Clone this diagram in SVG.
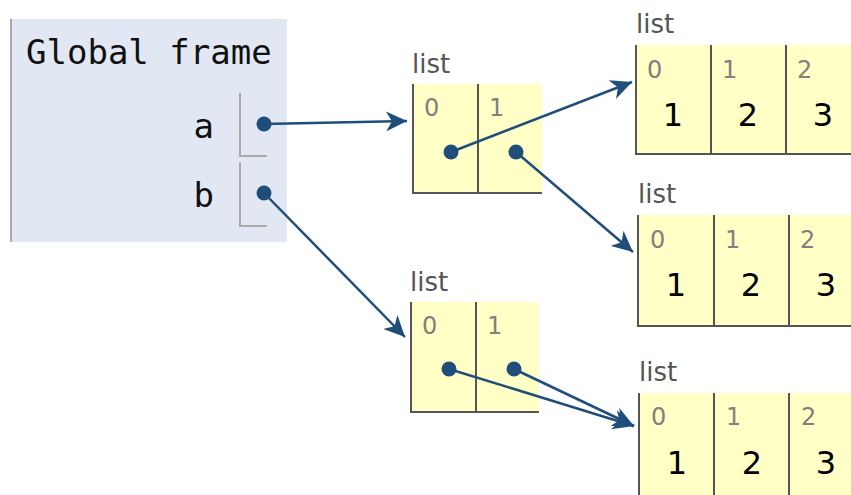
<svg xmlns="http://www.w3.org/2000/svg" width="851" height="495" viewBox="0 0 851 495">
<defs>
<style>
.frame{fill:#e2e8f3}
.framebar{stroke:#a8a8a8;stroke-width:2}
.mono{font-family:"DejaVu Sans Mono","Liberation Mono",monospace;fill:#111}
.slot{fill:none;stroke:#aaaaaa;stroke-width:2}
.cell{fill:#ffffc6}
.bd{stroke:#555555;stroke-width:2;fill:none}
.lbl{font-family:"DejaVu Sans",Verdana,sans-serif;font-size:26px;fill:#555555}
.idx{font-family:"DejaVu Sans",Verdana,sans-serif;font-size:24px;fill:#808080}
.val{font-family:"DejaVu Sans",Verdana,sans-serif;font-size:32px;fill:#000000;text-anchor:middle}
.dot{fill:#1f4e7b}
.conn{stroke:#1f4e7b;stroke-width:2.5;fill:none;marker-end:url(#ah)}
</style>
<marker id="ah" markerUnits="userSpaceOnUse" markerWidth="22" markerHeight="20" viewBox="0 0 22 20" refX="21" refY="10" orient="auto">
<path d="M0,0 L21,10 L0,20 L6,10 z" fill="#1f4e7b"/>
</marker>
</defs>

<g id="global-frame">
<rect class="frame" x="10" y="19" width="277" height="223"/>
<line class="framebar" x1="11" y1="19" x2="11" y2="242"/>
<text class="mono" x="26" y="64" font-size="34">Global frame</text>
<text class="mono" x="214" y="138" font-size="34" text-anchor="end">a</text>
<path class="slot" d="M240,93 V156 H267"/>
<text class="mono" x="214" y="207" font-size="34" text-anchor="end">b</text>
<path class="slot" d="M240,162 V226 H267"/>
</g>

<g id="list-a">
<text class="lbl" x="412" y="73">list</text>
<rect class="cell" x="413" y="84" width="129" height="109"/>
<path class="bd" d="M413,84 V193 H542 M478,84 V193"/>
<text class="idx" x="424" y="116">0</text>
<text class="idx" x="489" y="116">1</text>
</g>

<g id="list-b">
<text class="lbl" x="410" y="291">list</text>
<rect class="cell" x="411" y="302" width="128" height="110"/>
<path class="bd" d="M411,302 V412 H539 M476,302 V412"/>
<text class="idx" x="422" y="334">0</text>
<text class="idx" x="487" y="334">1</text>
</g>

<g id="list-top">
<text class="lbl" x="636" y="33">list</text>
<rect class="cell" x="636" y="45" width="215" height="109"/>
<path class="bd" d="M636,45 V154 H851 M711,45 V154 M786,45 V154"/>
<text class="idx" x="647" y="78">0</text>
<text class="idx" x="722" y="78">1</text>
<text class="idx" x="797" y="78">2</text>
<text class="val" x="673" y="126">1</text>
<text class="val" x="748" y="126">2</text>
<text class="val" x="823" y="126">3</text>
</g>

<g id="list-mid">
<text class="lbl" x="638" y="203">list</text>
<rect class="cell" x="638" y="215" width="213" height="111"/>
<path class="bd" d="M638,215 V326 H851 M714,215 V326 M789,215 V326"/>
<text class="idx" x="650" y="248">0</text>
<text class="idx" x="725" y="248">1</text>
<text class="idx" x="800" y="248">2</text>
<text class="val" x="676" y="296">1</text>
<text class="val" x="751" y="296">2</text>
<text class="val" x="826" y="296">3</text>
</g>

<g id="list-bot">
<text class="lbl" x="639" y="381">list</text>
<rect class="cell" x="639" y="393" width="212" height="102"/>
<path class="bd" d="M639,393 V495 M714,393 V495 M789,393 V495"/>
<text class="idx" x="651" y="425">0</text>
<text class="idx" x="726" y="425">1</text>
<text class="idx" x="801" y="425">2</text>
<text class="val" x="677" y="474">1</text>
<text class="val" x="752" y="474">2</text>
<text class="val" x="826" y="474">3</text>
</g>

<g id="connectors">
<line class="conn" x1="264" y1="124" x2="407" y2="121"/>
<line class="conn" x1="451" y1="152" x2="632" y2="82"/>
<line class="conn" x1="516" y1="152" x2="633" y2="252"/>
<line class="conn" x1="264" y1="193" x2="405" y2="337"/>
<line class="conn" x1="449" y1="369" x2="634" y2="426"/>
<line class="conn" x1="514" y1="369" x2="634" y2="426"/>
<circle class="dot" cx="264" cy="124" r="7.5"/>
<circle class="dot" cx="264" cy="193" r="7.5"/>
<circle class="dot" cx="451" cy="152" r="7.5"/>
<circle class="dot" cx="516" cy="152" r="7.5"/>
<circle class="dot" cx="449" cy="369" r="7.5"/>
<circle class="dot" cx="514" cy="369" r="7.5"/>
</g>
</svg>
